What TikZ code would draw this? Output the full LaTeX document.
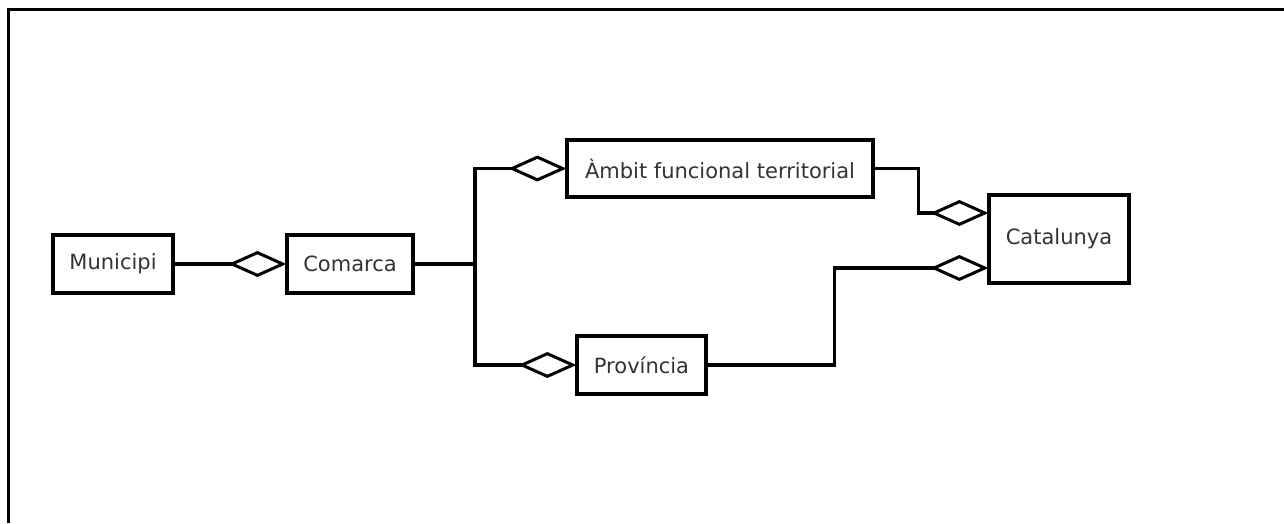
\documentclass[tikz,border=0pt]{standalone}
\usepackage{fontspec}
\setmainfont{DejaVu Sans}
\usetikzlibrary{arrows.meta}
\begin{document}
\begin{tikzpicture}[x=1pt,y=-1pt,
  box/.style={draw=black,line width=3.2pt,fill=white,inner sep=0pt,
    font=\fontsize{21}{25}\selectfont,text=black!80},
  agg/.style={draw=black,line width=3.2pt,
    -{Diamond[open,length=58pt 0 0,width=26pt 0 0,line width=3pt]}},
  conn/.style={draw=black,line width=3.2pt}]
\useasboundingbox[fill=white] (0,0) rectangle (1284,523);
\draw[line width=3.2pt] (8.5,523) -- (8.5,9.5) -- (1284,9.5);
\node[box,minimum width=120pt,minimum height=58pt] (mun) at (113,264) {Municipi};
\node[box,minimum width=126pt,minimum height=58pt] (com) at (350,264) {Comarca};
\node[box,minimum width=306pt,minimum height=57pt] (amb) at (720,168.5) {Àmbit funcional territorial};
\node[box,minimum width=129pt,minimum height=58pt] (prov) at (641.5,365) {Província};
\node[box,minimum width=140pt,minimum height=88pt] (cat) at (1059,239) {Catalunya};
\coordinate (j) at (475,264);
\draw[agg] (mun.east) -- ([xshift=1pt]com.west);
\draw[conn] (com.east) -- (j);
\draw[agg] (j) |- ([xshift=1pt]amb.west);
\draw[agg] (j) |- ([xshift=1pt]prov.west);
\draw[agg] (amb.east) -- ++(44,0) |- ([xshift=1pt,yshift=26pt]cat.west);
\draw[agg] (prov.east) -- ++(127,0) |- ([xshift=1pt,yshift=-29pt]cat.west);
\end{tikzpicture}
\end{document}
